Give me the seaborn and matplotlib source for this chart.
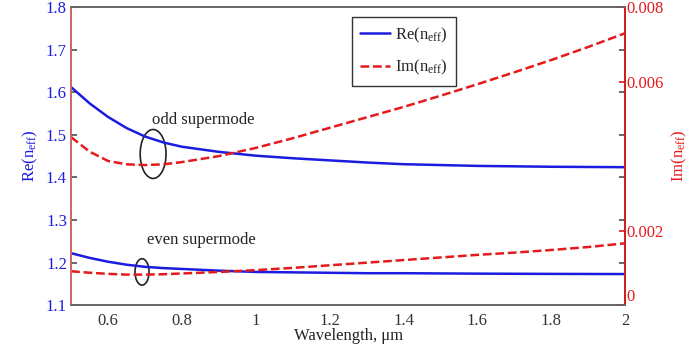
import matplotlib
matplotlib.use("Agg")
import matplotlib.pyplot as plt
from matplotlib.patches import Ellipse
import numpy as np
import pandas as pd
import seaborn as sns

sns.set_theme(style="white")
plt.rcParams["font.family"] = ["Liberation Serif", "DejaVu Serif"]
plt.rcParams["mathtext.fontset"] = "custom"
plt.rcParams["mathtext.rm"] = "Liberation Serif"
plt.rcParams["mathtext.it"] = "Liberation Serif"

# wavelength (um)
wavelength = [0.5, 0.55, 0.6, 0.65, 0.7, 0.75, 0.8, 0.9, 1.0, 1.1,
              1.2, 1.3, 1.4, 1.5, 1.6, 1.7, 1.8, 1.9, 2.0]
# real part of effective index (left axis)
re_odd = [1.612, 1.574, 1.542, 1.516, 1.496, 1.482, 1.472, 1.460, 1.451, 1.445,
          1.440, 1.435, 1.431, 1.429, 1.427, 1.426, 1.425, 1.4245, 1.424]
re_even = [1.222, 1.211, 1.202, 1.195, 1.190, 1.187, 1.185, 1.181, 1.178, 1.177,
           1.176, 1.175, 1.175, 1.1745, 1.174, 1.1737, 1.1734, 1.1732, 1.173]
# imaginary part of effective index (right axis)
im_odd = [0.00451, 0.00412, 0.00387, 0.00378, 0.00376, 0.00378, 0.00384, 0.00400, 0.00422, 0.00448,
          0.00476, 0.00504, 0.00532, 0.00562, 0.00593, 0.00625, 0.00658, 0.00693, 0.00730]
im_even = [0.00091, 0.00087, 0.00084, 0.00082, 0.00082, 0.00083, 0.00085, 0.00089, 0.00094, 0.00100,
           0.00107, 0.00114, 0.00121, 0.00128, 0.00135, 0.00141, 0.00148, 0.00156, 0.00166]

xticks = [0.6, 0.8, 1.0, 1.2, 1.4, 1.6, 1.8, 2.0]
xtick_labels = ["0.6", "0.8", "1", "1.2", "1.4", "1.6", "1.8", "2"]
left_ticks = [1.1, 1.2, 1.3, 1.4, 1.5, 1.6, 1.7, 1.8]
right_ticks = [0, 0.002, 0.006, 0.008]
right_labels = ["0", "0.002", "0.006", "0.008"]

blue = "#1c1ce0"
red = "#e41a1c"

n = len(wavelength)
df_re = pd.DataFrame({"wl": wavelength * 2, "val": re_odd + re_even,
                      "mode": ["odd"] * n + ["even"] * n})
df_im = pd.DataFrame({"wl": wavelength * 2, "val": im_odd + im_even,
                      "mode": ["odd"] * n + ["even"] * n})

fig = plt.figure(figsize=(6.97, 3.54), dpi=100)
ax = fig.add_axes([0.102, 0.138, 0.795, 0.842])
ax2 = ax.twinx()

for m in ["odd", "even"]:
    sns.lineplot(df_re[df_re["mode"] == m], x="wl", y="val", ax=ax,
                 color=blue, linewidth=1.8,
                 label="Re(n$_{\\rm eff}$)" if m == "odd" else None, legend=False)
    sns.lineplot(df_im[df_im["mode"] == m], x="wl", y="val", ax=ax2,
                 color=red, linewidth=1.8, linestyle=(0, (3.5, 1.5)),
                 label="Im(n$_{\\rm eff}$)" if m == "odd" else None, legend=False)

ax.set_xlim(0.5, 2.0)
ax.set_ylim(1.1, 1.8)
ax2.set_ylim(0, 0.008)
ax.set_xticks(xticks)
ax.set_xticklabels(xtick_labels)
ax.set_yticks(left_ticks)
ax2.set_yticks(right_ticks)
ax2.set_yticklabels(right_labels)

ax.tick_params(axis="x", direction="in", length=4, labelsize=12, colors="#333333",
               top=False, pad=6)
ax.tick_params(axis="y", direction="in", length=4, labelsize=12, labelcolor=blue,
               color="#555555", right=True, pad=3)
ax2.tick_params(axis="y", direction="in", length=4, labelsize=12, labelcolor=red,
                color=red, pad=1)
# the "0" of the right axis sits just above the "2" of the x axis
ax2.get_yticklabels()[0].set_verticalalignment("bottom")

ax.set_xlabel("Wavelength, \u03bcm", fontsize=12, color="#222222", labelpad=-1)
ax.set_ylabel("Re(n$_{\\rm eff}$)", fontsize=12, color=blue, labelpad=4)
ax2.set_ylabel("Im(n$_{\\rm eff}$)", fontsize=12, color=red, labelpad=4)

for side in ["top", "bottom"]:
    ax.spines[side].set_color("#666666")
ax2.spines["left"].set_color("#e07070")
ax2.spines["right"].set_color(red)
ax2.spines["top"].set_color("#666666")
ax2.spines["bottom"].set_color("#666666")

# annotation ellipses and labels
ax.add_patch(Ellipse((0.722, 1.455), 0.07, 0.115, fill=False, edgecolor="#222222", linewidth=1.2))
ax.add_patch(Ellipse((0.692, 1.178), 0.038, 0.062, fill=False, edgecolor="#222222", linewidth=1.2))
ax.text(0.72, 1.535, "odd supermode", fontsize=12, color="#222222", ha="left", va="center")
ax.text(0.706, 1.252, "even supermode", fontsize=12, color="#222222", ha="left", va="center")

h1, l1 = ax.get_legend_handles_labels()
h2, l2 = ax2.get_legend_handles_labels()
leg = ax2.legend(h1 + h2, l1 + l2, loc="upper left", bbox_to_anchor=(0.507, 0.966),
                 borderaxespad=0, fontsize=12, frameon=True, fancybox=False,
                 framealpha=1, handlelength=1.8, borderpad=0.5, labelspacing=0.8,
                 handletextpad=0.3)
leg.get_frame().set_edgecolor("#333333")
leg.get_frame().set_linewidth(1.0)
leg.set_zorder(10)

fig.savefig("out.png", dpi=100)
